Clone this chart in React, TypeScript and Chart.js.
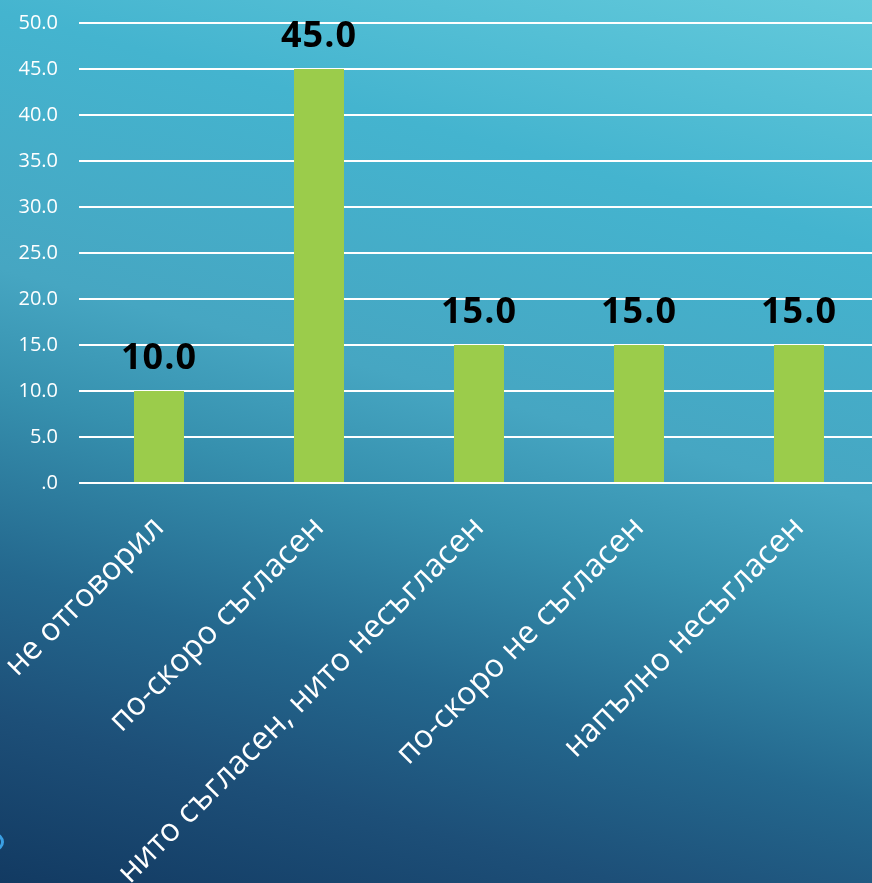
import React, { useEffect, useRef } from "react";
import { Chart, registerables } from "chart.js";

Chart.register(...registerables);

const categories = [
  "не отговорил",
  "по-скоро съгласен",
  "нито съгласен, нито несъгласен",
  "по-скоро не съгласен",
  "напълно несъгласен",
];
const values = [10.0, 45.0, 15.0, 15.0, 15.0];
const yMin = 0;
const yMax = 50;
const yStep = 5;

const barLabelPlugin = {
  id: "barLabels",
  afterDatasetsDraw(chart: any) {
    const ctx = chart.ctx;
    const meta = chart.getDatasetMeta(0);
    ctx.save();
    ctx.fillStyle = "#000000";
    ctx.font = "bold 36px 'Open Sans'";
    ctx.textAlign = "center";
    ctx.textBaseline = "alphabetic";
    try {
      (ctx as any).letterSpacing = "1px";
    } catch (e) {}
    meta.data.forEach((el: any, i: number) => {
      const v = chart.data.datasets[0].data[i] as number;
      ctx.fillText(v.toFixed(1), el.x, el.y - 22);
    });
    ctx.restore();
  },
};

export default function App() {
  const ref = useRef<HTMLCanvasElement | null>(null);
  useEffect(() => {
    document.body.style.margin = "0";
    document.body.style.overflow = "hidden";
    const canvas = ref.current!;
    const chart = new Chart(canvas, {
      type: "bar",
      data: {
        labels: categories,
        datasets: [
          {
            data: values,
            backgroundColor: "#9BCC4B",
            borderWidth: 0,
            barPercentage: 0.3125,
            categoryPercentage: 1,
          },
        ],
      },
      options: {
        responsive: false,
        animation: false,
        devicePixelRatio: 1,
        layout: { padding: { top: 23, left: 0, right: 1, bottom: 0 } },
        plugins: {
          legend: { display: false },
          tooltip: { enabled: false },
        },
        scales: {
          x: {
            grid: { display: false, drawTicks: false },
            border: { display: false },
            ticks: {
              color: "#ffffff",
              font: { family: "'Open Sans'", size: 32 },
              maxRotation: 45,
              minRotation: 45,
              autoSkip: false,
              padding: 26,
            },
            afterFit: (scale: any) => {
              scale.height = 400;
              scale.paddingLeft = 0;
              scale.paddingRight = 0;
            },
          },
          y: {
            min: yMin,
            max: yMax,
            grid: { color: "#ffffff", lineWidth: 2, drawTicks: false },
            border: { display: false },
            ticks: {
              stepSize: yStep,
              color: "#ffffff",
              font: { family: "'Open Sans'", size: 20 },
              padding: 21,
              callback: (v: any) => (Number(v) === 0 ? ".0" : Number(v).toFixed(1)),
            },
            afterFit: (scale: any) => {
              scale.width = 79;
              scale.paddingTop = 0;
              scale.paddingBottom = 0;
            },
          },
        },
      },
      plugins: [barLabelPlugin],
    });
    return () => chart.destroy();
  }, []);

  return (
    <div
      style={{
        position: "fixed",
        left: 0,
        top: 0,
        width: 872,
        height: 883,
        overflow: "hidden",
        background:
          "linear-gradient(195deg, #64cadb 0%, #44b4cf 22%, #46a6c2 45%, #3690ae 56%, #24688e 72%, #1d4f78 85%, #123a62 100%)",
      }}
    >
      <div
        style={{
          position: "absolute",
          left: -14,
          top: 833,
          width: 18,
          height: 18,
          boxSizing: "border-box",
          border: "3px solid #3a9fe3",
          borderRadius: "50%",
        }}
      />
      <canvas
        ref={ref}
        width={880}
        height={883}
        style={{ position: "absolute", left: 0, top: 0, width: 880, height: 883 }}
      />
    </div>
  );
}
